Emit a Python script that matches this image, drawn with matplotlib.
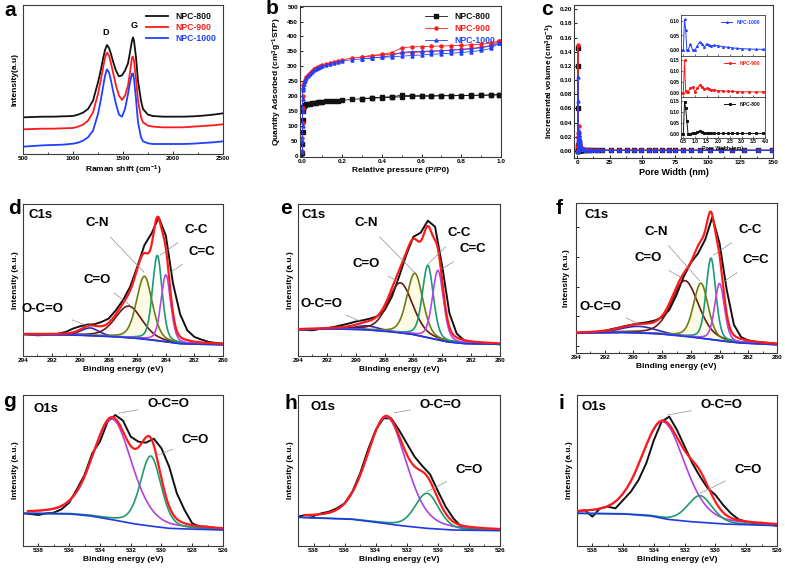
import numpy as np
import matplotlib
matplotlib.use('Agg')
import matplotlib.pyplot as plt

plt.rcParams.update({
    'font.family': ['Liberation Sans', 'DejaVu Sans'],
    'font.weight': 'bold',
    'axes.labelweight': 'bold',
    'mathtext.fontset': 'custom',
    'mathtext.rm': 'Liberation Sans:bold',
    'mathtext.it': 'Liberation Sans:bold:italic',
    'mathtext.bf': 'Liberation Sans:bold',
    'mathtext.default': 'rm',
    'xtick.direction': 'in', 'ytick.direction': 'in',
    'axes.linewidth': 0.8, 'axes.edgecolor': '#3a3a3a',
})

# ---------------- data: (a) Raman ----------------
RAMAN_X = [500, 600, 700, 800, 900, 1000, 1050, 1100, 1150, 1200, 1250, 1280, 1300, 1320, 1340,
           1360, 1380, 1400, 1430, 1460, 1490, 1520, 1550, 1570, 1590, 1600, 1610, 1630, 1650, 1680,
           1700, 1750, 1800, 1900, 2000, 2100, 2200, 2300, 2400, 2500]
RAMAN_800 = [110, 111, 112, 112, 113, 114, 118, 124, 135, 160, 215, 255, 285, 312, 327,
             318, 300, 278, 250, 233, 236, 250, 272, 305, 340, 350, 340, 290, 220, 160,
             135, 118, 114, 112, 112, 112, 113, 115, 118, 122]
RAMAN_900 = [74, 75, 76, 76, 77, 78, 82, 88, 100, 125, 180, 225, 258, 290, 304,
             295, 272, 245, 205, 175, 162, 175, 205, 245, 290, 292, 280, 225, 160, 110,
             95, 85, 82, 80, 80, 80, 82, 84, 86, 89]
RAMAN_1000 = [22, 24, 26, 27, 28, 31, 34, 40, 50, 70, 120, 165, 200, 235, 254,
              245, 220, 190, 150, 118, 112, 135, 180, 215, 240, 242, 225, 165, 95, 50,
              38, 32, 30, 30, 30, 30, 31, 33, 35, 38]
SERIES = ['NPC-800', 'NPC-900', 'NPC-1000']

# ---------------- data: (b) N2 isotherms ----------------
P_ADS = [0.0002, 0.0004, 0.0006, 0.0008, 0.001, 0.002, 0.004, 0.008, 0.012, 0.02,
         0.03, 0.04, 0.05, 0.06, 0.07, 0.08, 0.09, 0.10, 0.12, 0.14,
         0.16, 0.18, 0.20, 0.25, 0.30, 0.35, 0.40, 0.45, 0.50, 0.55,
         0.60, 0.65, 0.70, 0.75, 0.80, 0.85, 0.90, 0.95, 0.99]
ADS_800 = [10, 40, 80, 120, 150, 160, 165, 168, 170, 172,
           174, 175, 176, 177, 178, 179, 180, 181, 182, 183,
           184, 185, 186, 189, 191, 193, 195, 196, 198, 199,
           200, 200, 201, 201, 202, 202, 203, 203, 205]
ADS_900 = [15, 60, 110, 160, 200, 225, 238, 248, 255, 265,
           272, 279, 285, 290, 294, 297, 300, 303, 307, 311,
           315, 318, 322, 327, 331, 335, 338, 341, 344, 346,
           348, 350, 352, 354, 357, 360, 364, 370, 385]
ADS_1000 = [12, 50, 100, 150, 190, 220, 232, 242, 250, 260,
            268, 275, 281, 286, 290, 294, 297, 300, 304, 308,
            312, 315, 318, 322, 325, 328, 330, 332, 334, 336,
            338, 340, 342, 344, 346, 349, 353, 360, 378]
P_DES = [0.99, 0.95, 0.90, 0.85, 0.80, 0.75, 0.70, 0.65, 0.60, 0.55, 0.50, 0.45, 0.40, 0.35, 0.30]
DES_800 = [205, 204, 203, 203, 202, 202, 202, 201, 201, 202, 203, 198, 196, 194, 192]
DES_900 = [385, 378, 374, 372, 370, 369, 368, 367, 366, 365, 362, 346, 340, 336, 332]
DES_1000 = [378, 368, 362, 358, 356, 354, 352, 351, 350, 349, 347, 336, 331, 328, 325]

# ---------------- data: (c) pore size distribution ----------------
PORE_W = [0.40, 0.50, 0.55, 0.60, 0.65, 0.70, 0.80, 0.90, 1.00, 1.10,
          1.20, 1.30, 1.40, 1.50, 1.60, 1.70, 1.80, 2.00, 2.20, 2.40,
          2.60, 2.80, 3.00, 3.30, 3.60, 3.90, 5.0, 6.0, 7.5, 9.0,
          11.0, 13.5, 16.0, 19.0, 25.8, 32.0, 38.0, 43.6, 49.2, 54.8,
          60.0, 65.0, 70.2, 75.3, 81.1, 87.0, 93.9, 101.5, 110.5, 118.6,
          127.6, 138.5, 149.0]
PSD_800 = [0.000, 0.000, 0.145, 0.120, 0.060, 0.000, 0.000, 0.005, 0.003, 0.008,
           0.012, 0.008, 0.004, 0.002, 0.002, 0.001, 0.001, 0.001, 0.001, 0.001,
           0.001, 0.001, 0.001, 0.001, 0.001, 0.001, 0.001, 0.001, 0.0008, 0.0008,
           0.0008, 0.0008, 0.0008, 0.0008, 0.0008, 0.0008, 0.0008, 0.0008, 0.0008, 0.0008,
           0.0008, 0.0008, 0.0008, 0.0008, 0.0008, 0.0008, 0.0008, 0.0008, 0.0008, 0.0008,
           0.0008, 0.0008, 0.0008]
PSD_900 = [0.000, 0.000, 0.150, 0.010, 0.005, 0.005, 0.020, 0.025, 0.005, 0.020,
           0.035, 0.025, 0.015, 0.020, 0.016, 0.013, 0.012, 0.010, 0.008, 0.007,
           0.006, 0.005, 0.004, 0.004, 0.003, 0.003, 0.0025, 0.002, 0.0015, 0.0012,
           0.001, 0.001, 0.001, 0.001, 0.0008, 0.0008, 0.0008, 0.0008, 0.0008, 0.0008,
           0.0008, 0.0008, 0.0008, 0.0008, 0.0008, 0.0008, 0.0008, 0.0008, 0.0008, 0.0008,
           0.0008, 0.0008, 0.0008]
PSD_1000 = [0.000, 0.000, 0.105, 0.070, 0.000, 0.000, 0.020, 0.002, 0.000, 0.015,
            0.028, 0.022, 0.010, 0.022, 0.018, 0.015, 0.017, 0.015, 0.012, 0.010,
            0.008, 0.006, 0.005, 0.004, 0.003, 0.003, 0.0025, 0.002, 0.0015, 0.0012,
            0.001, 0.001, 0.001, 0.001, 0.0008, 0.0008, 0.0008, 0.0008, 0.0008, 0.0008,
            0.0008, 0.0008, 0.0008, 0.0008, 0.0008, 0.0008, 0.0008, 0.0008, 0.0008, 0.0008,
            0.0008, 0.0008, 0.0008]

# ---------------- data: XPS C1s (d, e, f) ----------------
C1S_X = [294, 293.5, 293, 292.5, 292, 291.5, 291, 290.5, 290, 289.5, 289, 288.5, 288, 287.5, 287,
         286.5, 286, 285.5, 285, 284.5, 284, 283.5, 283, 282.5, 282, 281.5, 281, 280.5, 280]
C1S_RAW_D = [65, 64, 62, 63, 64, 67, 72, 82, 89, 94, 95, 102, 112, 137, 167,
             207, 267, 332, 367, 415, 360, 217, 125, 77, 57, 49, 42, 39, 37]
C1S_RAW_E = [79, 78, 77, 81, 83, 87, 92, 97, 103, 107, 112, 119, 137, 177, 237,
             302, 357, 369, 405, 387, 267, 127, 67, 47, 42, 40, 39, 37, 35]
C1S_RAW_F = [60, 60, 62, 64, 67, 72, 77, 82, 86, 90, 93, 98, 108, 130, 175,
             230, 272, 300, 342, 410, 330, 190, 85, 48, 38, 34, 32, 30, 28]
C1S_BG_X_D = [294, 289.8, 287.4, 285.8, 284.4, 283.0, 281.6, 280]
C1S_BG_D = [65, 62, 57, 52, 45, 37, 35, 34]
C1S_BG_X_E = [294, 291.7, 289.4, 287.5, 286.1, 284.7, 283.6, 282.4, 280]
C1S_BG_E = [79, 81, 79, 72, 65, 52, 42, 37, 35]
C1S_BG_X_F = [294, 290.6, 288.3, 286.4, 285.0, 283.6, 282.5, 280]
C1S_BG_F = [60, 62, 58, 50, 43, 35, 30, 25]
C1S_LABELS = ['O-C=O', 'C=O', 'C-N', 'C-C', 'C=C']
C1S_CENTER_D = [289.3, 286.6, 285.5, 284.6, 284.0]
C1S_HEIGHT_D = [23, 95, 188, 255, 200]
C1S_FWHM_D = [1.5, 2.2, 1.3, 0.8, 0.8]
C1S_CENTER_E = [289.2, 286.9, 285.9, 285.0, 284.3]
C1S_HEIGHT_E = [12, 150, 185, 217, 208]
C1S_FWHM_E = [2.0, 2.0, 1.3, 0.9, 0.9]
C1S_CENTER_F = [289.6, 286.4, 285.3, 284.6, 284.0]
C1S_HEIGHT_F = [20, 168, 166, 245, 172]
C1S_FWHM_F = [2.8, 2.2, 1.2, 0.8, 0.8]

# ---------------- data: XPS O1s (g, h, i) ----------------
O1S_X = [539, 538.5, 538, 537.5, 537, 536.5, 536, 535.5, 535, 534.5, 534, 533.5, 533, 532.5,
         532, 531.5, 531, 530.5, 530, 529.5, 529, 528.5, 528, 527.5, 527, 526.5, 526]
O1S_RAW_G = [98, 96, 93, 98, 100, 110, 130, 170, 213, 278, 313, 373, 393, 376,
             328, 313, 310, 322, 293, 238, 158, 108, 68, 58, 58, 54, 51]
O1S_RAW_H = [88, 93, 90, 98, 103, 113, 128, 163, 218, 288, 348, 383, 383, 348,
             308, 268, 240, 215, 165, 118, 83, 58, 53, 51, 50, 49, 48]
O1S_RAW_I = [103, 108, 88, 113, 118, 113, 138, 163, 198, 248, 318, 373, 388, 348,
             298, 248, 208, 173, 153, 123, 98, 80, 73, 68, 70, 66, 60]
O1S_BG_X_G = [539, 535.9, 534.6, 533.1, 531.7, 530.4, 529.5, 528.3, 526]
O1S_BG_G = [98, 96, 90, 78, 66, 58, 53, 51, 48]
O1S_BG_X_H = [539, 535.5, 533.8, 532.35, 530.7, 529.0, 526]
O1S_BG_H = [86, 80, 70, 61, 53, 48, 46]
O1S_BG_X_I = [539, 535.9, 534.2, 533.1, 531.6, 529.4, 526]
O1S_BG_I = [98, 96, 90, 80, 73, 66, 61]
O1S_LABELS = ['O-C=O', 'C=O']
O1S_CENTER_G = [533.2, 530.7]
O1S_HEIGHT_G = [302, 210]
O1S_FWHM_G = [3.0, 1.6]
O1S_CENTER_H = [533.3, 530.7]
O1S_HEIGHT_H = [320, 105]
O1S_FWHM_H = [3.0, 1.8]
O1S_CENTER_I = [533.4, 531.0]
O1S_HEIGHT_I = [290, 80]
O1S_FWHM_I = [3.3, 1.9]

# ---------------- styling ----------------
W, H = 785, 572
fig = plt.figure(figsize=(W / 100, H / 100), dpi=100)
TICK_FS = 4.6
LAB_FS = 6.0
ANN_FS = 9.5
C_BLACK, C_RED, C_BLUE = '#111111', '#ff1a1a', '#2040ff'
C1S_COLORS = ['#2a2ab8', '#6b1818', '#6e7d12', '#1a9a78', '#b447e8']
O1S_COLORS = ['#b040e0', '#1f9b6a']
BG_COLOR = '#2038e0'


def fax(l, t, r, b):
    return fig.add_axes([l / W, 1 - b / H, (r - l) / W, (b - t) / H])


def style(ax):
    ax.tick_params(labelsize=TICK_FS, length=2, width=0.6, pad=1.5)
    ax.tick_params(which='minor', length=1.2, width=0.5)
    for s in ax.spines.values():
        s.set_linewidth(0.8)


def letter(x, y, s):
    fig.text(x / W, 1 - y / H, s, fontsize=15, fontweight='bold', ha='left', va='top')


def pv(x, c, h, w, eta=0.3):
    g = np.exp(-4 * np.log(2) * ((x - c) / w) ** 2)
    lo = 1.0 / (1 + 4 * ((x - c) / w) ** 2)
    return h * (eta * lo + (1 - eta) * g)


leader = dict(arrowstyle='-', color='#8a8a8a', lw=0.6, linestyle=(0, (1.5, 1.2)))

# ---------------- (a) ----------------
ax = fax(23, 5, 223, 154)
for y, c, n in zip([RAMAN_800, RAMAN_900, RAMAN_1000], [C_BLACK, C_RED, C_BLUE], SERIES):
    ax.plot(RAMAN_X, y, color=c, lw=1.3, label=n)
ax.set_xlim(500, 2500)
ax.set_ylim(0, 447)
ax.set_xticks([500, 1000, 1500, 2000, 2500])
ax.set_xticks([750, 1250, 1750, 2250], minor=True)
ax.set_yticks([])
ax.set_xlabel('Raman shift (cm$^{-1}$)', fontsize=LAB_FS, labelpad=2)
ax.set_ylabel('Intensity(a.u)', fontsize=LAB_FS, labelpad=3)
ax.text(1330, 352, 'D', fontsize=6.5, ha='center', va='bottom')
ax.text(1610, 372, 'G', fontsize=6.5, ha='center', va='bottom')
ax.legend(loc='upper right', fontsize=6.2, frameon=False, handlelength=2.6, labelspacing=0.25,
          borderaxespad=0.4, labelcolor='linecolor')
style(ax)
letter(4, 1, 'a')

# ---------------- (b) ----------------
ax = fax(300, 6, 501, 157)
for ya, yd, c, m, n in zip([ADS_800, ADS_900, ADS_1000], [DES_800, DES_900, DES_1000],
                           [C_BLACK, C_RED, C_BLUE], ['s', 'o', '^'], SERIES):
    ax.plot(P_ADS, ya, color=c, lw=0.6, marker=m, ms=2.2, label=n)
    ax.plot(P_DES, yd, color=c, lw=0.6, marker=m, ms=2.2)
ax.set_xlim(-0.012, 1.0)
ax.set_ylim(-4, 502)
ax.set_xticks([0.0, 0.2, 0.4, 0.6, 0.8, 1.0])
ax.set_xticks([0.1, 0.3, 0.5, 0.7, 0.9], minor=True)
ax.set_yticks(range(0, 501, 50))
ax.set_xlabel('Relative pressure (P/P0)', fontsize=LAB_FS, labelpad=2)
ax.set_ylabel('Quantity Adsorbed (cm$^3$g$^{-1}$STP)', fontsize=LAB_FS, labelpad=2)
ax.legend(loc='upper right', fontsize=6.2, frameon=False, handlelength=2.6, labelspacing=0.35,
          borderaxespad=0.3, labelcolor='linecolor')
style(ax)
letter(266, -1, 'b')

# ---------------- (c) ----------------
ax = fax(574, 5, 773, 158)
for y, c, m, n in zip([PSD_800, PSD_900, PSD_1000], [C_BLACK, C_RED, C_BLUE], ['s', 'o', '^'], SERIES):
    ax.plot(PORE_W, y, color=c, lw=0.9, marker=m, ms=2.2, label=n)
ax.set_xlim(-2.3, 150)
ax.set_ylim(-0.01, 0.206)
ax.set_xticks([0, 25, 50, 75, 100, 125, 150])
ax.set_xticks([12.5, 37.5, 62.5, 87.5, 112.5, 137.5], minor=True)
ax.set_yticks(np.arange(0, 0.201, 0.02))
ax.set_yticklabels(['%.2f' % v for v in np.arange(0, 0.201, 0.02)])
ax.set_xlabel('Pore Width (nm)', fontsize=LAB_FS + 0.5, labelpad=2)
ax.set_ylabel('Incremental volume (cm$^3$g$^{-1}$)', fontsize=LAB_FS, labelpad=2)
style(ax)
letter(541, 0, 'c')

inset_rows = [(15, 56, PSD_1000, C_BLUE, '^', 'NPC-1000', [0.0, 0.05, 0.10], (-0.02, 0.12)),
              (56, 97, PSD_900, C_RED, 'o', 'NPC-900', [0.0, 0.05, 0.10, 0.15], (-0.02, 0.17)),
              (97, 138, PSD_800, C_BLACK, 's', 'NPC-800', [0.0, 0.05, 0.10, 0.15], (-0.02, 0.17))]
for k, (t, b, y, c, m, n, yt, yl) in enumerate(inset_rows):
    ia = fax(681, t, 765, b)
    ia.set_facecolor('white')
    ia.plot(PORE_W, y, color=c, lw=0.7, marker=m, ms=1.2, label=n)
    ia.set_xlim(0.4, 4.0)
    ia.set_ylim(*yl)
    ia.set_yticks(yt)
    ia.set_yticklabels(['%.2f' % v for v in yt])
    ia.set_xticks([0.5, 1.0, 1.5, 2.0, 2.5, 3.0, 3.5, 4.0])
    ia.tick_params(labelsize=3.6, length=1.2, width=0.4, pad=1)
    if k < 2:
        ia.set_xticklabels([])
    else:
        ia.set_xlabel('Pore Width (nm)', fontsize=3.8, labelpad=1)
    for s in ia.spines.values():
        s.set_linewidth(0.6)
    ia.legend(loc='upper right', fontsize=3.6, frameon=False, handlelength=2.2,
              borderaxespad=0.6, labelcolor='linecolor')


# ---------------- XPS helper ----------------
def xps_panel(box, xlim, raw_x, raw, bg_x, bg, centers, heights, fwhms, colors, labels,
              ann, title_xy, title, ylim, ticks, minor, fill_idx=None, yticks_on=False):
    ax = fax(*box)
    xx = np.linspace(min(xlim), max(xlim), 600)
    base = np.interp(xx, bg_x[::-1], bg[::-1])
    comps = [pv(xx, c, h, w) for c, h, w in zip(centers, heights, fwhms)]
    ax.plot(raw_x, raw, color=C_BLACK, lw=1.4, zorder=2)
    if fill_idx is not None:
        ax.fill_between(xx, base, base + comps[fill_idx], color='#fefbe4', lw=0, zorder=1)
    for comp, col in zip(comps, colors):
        ax.plot(xx, base + comp, color=col, lw=1.2, zorder=3)
    ax.plot(bg_x, bg, color=BG_COLOR, lw=1.2, zorder=3)
    ax.plot(xx, base + np.sum(comps, axis=0), color=C_RED, lw=1.6, zorder=4)
    ax.set_xlim(*xlim)
    ax.set_ylim(*ylim)
    ax.set_xticks(ticks)
    ax.set_xticks(minor, minor=True)
    if yticks_on:
        ax.set_yticks(np.arange(20, ylim[1], 90))
        ax.set_yticklabels([])
    else:
        ax.set_yticks([])
    ax.set_xlabel('Binding energy (eV)', fontsize=LAB_FS, labelpad=2)
    ax.set_ylabel('Intensity (a.u.)', fontsize=LAB_FS, labelpad=3)
    ax.text(title_xy[0], title_xy[1], title, fontsize=ANN_FS, ha='left', va='center')
    for lab, (tx, ty, px, py) in zip(labels, ann):
        ax.annotate(lab, xy=(px, py), xytext=(tx, ty), fontsize=ANN_FS, ha='center', va='center',
                    arrowprops=dict(leader, shrinkA=5, shrinkB=0), zorder=6)
    style(ax)
    return ax


C1S_TICKS = [294, 292, 290, 288, 286, 284, 282, 280]
C1S_MINOR = [293, 291, 289, 287, 285, 283, 281]
O1S_TICKS = [538, 536, 534, 532, 530, 528, 526]
O1S_MINOR = [539, 537, 535, 533, 531, 529, 527]

# (d)
xps_panel((23, 204, 223, 356), (294, 280), C1S_X, C1S_RAW_D, C1S_BG_X_D, C1S_BG_D,
          C1S_CENTER_D, C1S_HEIGHT_D, C1S_FWHM_D, C1S_COLORS, C1S_LABELS,
          [(292.6, 142, 289.3, 87), (288.8, 227, 286.5, 152), (288.8, 397, 285.5, 249),
           (281.9, 377, 284.4, 302), (281.5, 312, 283.8, 247)],
          (293.6, 422), 'C1s', (0, 455), C1S_TICKS, C1S_MINOR, fill_idx=2)
letter(8, 199, 'd')

# (e)
xps_panel((298, 204, 500, 356), (294, 280), C1S_X, C1S_RAW_E, C1S_BG_X_E, C1S_BG_E,
          C1S_CENTER_E, C1S_HEIGHT_E, C1S_FWHM_E, C1S_COLORS, C1S_LABELS,
          [(292.4, 157, 289.6, 102), (289.25, 275, 287.05, 222), (289.25, 397, 285.9, 249),
           (282.8, 367, 285.0, 275), (281.85, 319, 284.05, 260)],
          (293.75, 422), 'C1s', (0, 455), C1S_TICKS, C1S_MINOR, fill_idx=2)
letter(280, 199, 'e')

# (f)
xps_panel((576, 203, 777, 353), (294, 280), C1S_X, C1S_RAW_F, C1S_BG_X_F, C1S_BG_F,
          C1S_CENTER_F, C1S_HEIGHT_F, C1S_FWHM_F, C1S_COLORS, C1S_LABELS,
          [(292.3, 140, 289.7, 90), (289.0, 285, 286.7, 228), (288.4, 365, 285.4, 218),
           (281.9, 370, 284.4, 295), (281.5, 280, 283.6, 218)],
          (293.4, 415), 'C1s', (0, 452), C1S_TICKS, C1S_MINOR, fill_idx=2, yticks_on=True)
letter(556, 199, 'f')

# (g)
xps_panel((23, 395, 223, 546), (538.68, 526), O1S_X, O1S_RAW_G, O1S_BG_X_G, O1S_BG_G,
          O1S_CENTER_G, O1S_HEIGHT_G, O1S_FWHM_G, O1S_COLORS, O1S_LABELS,
          [(529.55, 426, 532.8, 398), (527.8, 318, 530.2, 273)],
          (538.3, 410), 'O1s', (0, 453), O1S_TICKS, O1S_MINOR)
letter(3, 392, 'g')

# (h)
xps_panel((298, 395, 500, 546), (538.6, 526), O1S_X, O1S_RAW_H, O1S_BG_X_H, O1S_BG_H,
          O1S_CENTER_H, O1S_HEIGHT_H, O1S_FWHM_H, O1S_COLORS, O1S_LABELS,
          [(529.8, 423, 532.8, 400), (528.0, 228, 530.7, 163)],
          (538.2, 418), 'O1s', (0, 453), O1S_TICKS, O1S_MINOR)
letter(284, 394, 'h')

# (i)
xps_panel((577, 395, 777, 546), (539, 526), O1S_X, O1S_RAW_I, O1S_BG_X_I, O1S_BG_I,
          O1S_CENTER_I, O1S_HEIGHT_I, O1S_FWHM_I, O1S_COLORS, O1S_LABELS,
          [(529.6, 423, 533.1, 393), (527.9, 228, 531.0, 158)],
          (538.7, 418), 'O1s', (0, 453), O1S_TICKS, O1S_MINOR)
letter(558, 394, 'i')

fig.savefig('out.png', dpi=100)
